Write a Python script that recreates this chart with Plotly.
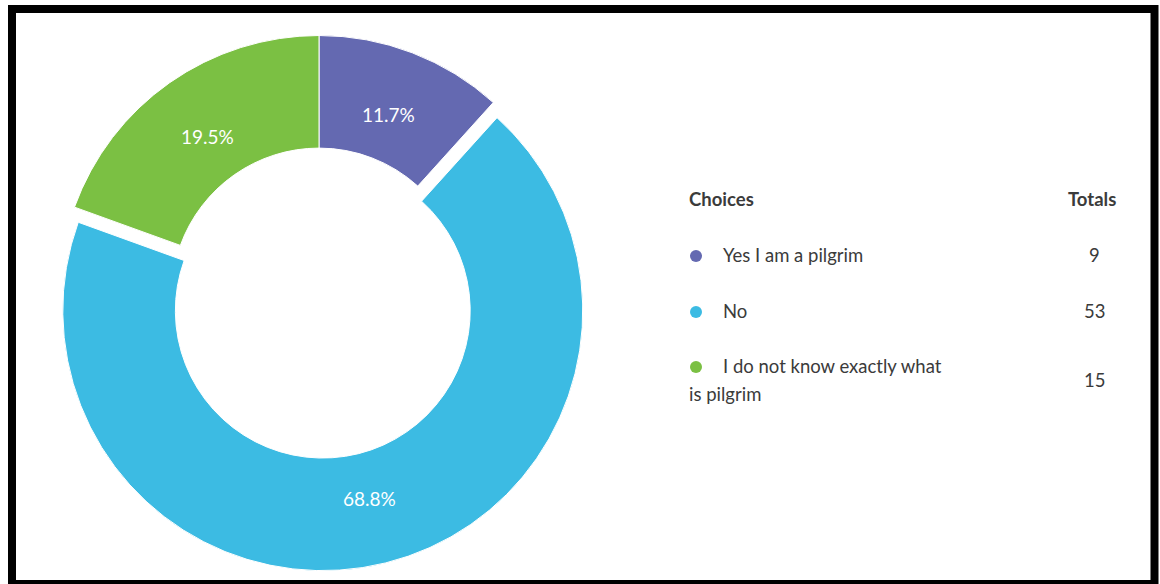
import math
import textwrap
import plotly.graph_objects as go

# Survey answers and their counts
choices = ["Yes I am a pilgrim", "No", "I do not know exactly what is pilgrim"]
totals = [9, 53, 15]
colors = ["#6469B1", "#3CBBE3", "#7BC043"]
pulls = [0, 0.06, 0]

W, H = 1160, 584
FONT = "Lato"
TEXT = "#3b3b3b"

# Pie geometry (pixels): centre, outer radius and hole fraction
CX, CY, R = 319, 295.5, 260
HOLE = 0.567
LABEL_R = 0.745


def px(x):
    return x / W


def py(y):
    return 1 - y / H


half = R * (1 + max(pulls))
fig = go.Figure()

fig.add_trace(go.Pie(
    labels=choices,
    values=totals,
    hole=HOLE,
    sort=False,
    direction="clockwise",
    rotation=0,
    pull=pulls,
    marker=dict(colors=colors, line=dict(color="white", width=1)),
    textinfo="none",
    domain=dict(x=[px(CX - half), px(CX + half)],
                y=[py(CY + half), py(CY - half)]),
    showlegend=False,
    hoverinfo="label+value+percent",
))

annotations = []

# Percentage labels placed in each slice, clockwise from 12 o'clock
grand = sum(totals)
start = 0.0
for value, pull in zip(totals, pulls):
    frac = value / grand
    mid = 2 * math.pi * (start + frac / 2)
    r = R * (LABEL_R + pull)
    annotations.append(dict(
        x=px(CX + r * math.sin(mid)), y=py(CY - r * math.cos(mid)),
        text=f"{frac * 100:.1f}%", xanchor="center", yanchor="middle",
        xref="paper", yref="paper", showarrow=False,
        font=dict(family=FONT, size=19, color="white"),
    ))
    start += frac

# Legend table: header row, then one row per choice
table = [
    dict(x=px(687), y=py(199), text="<b>Choices</b>", xanchor="left"),
    dict(x=px(1118), y=py(199), text="<b>Totals</b>", xanchor="right"),
]

row_y = [255, 311, 366]
dot_x, dot_y = [], []
for label, total, y in zip(choices, totals, row_y):
    lines = textwrap.wrap(label, 26)
    table.append(dict(x=px(721), y=py(y), text=lines[0], xanchor="left"))
    for k, extra in enumerate(lines[1:], start=1):
        table.append(dict(x=px(687), y=py(y + 28 * k), text=extra, xanchor="left"))
    total_y = y + 14 * (len(lines) - 1)
    table.append(dict(x=px(1094), y=py(total_y), text=str(total), xanchor="center"))
    dot_x.append(696)
    dot_y.append(y + 1)

for a in table:
    a.update(xref="paper", yref="paper", yanchor="middle", showarrow=False,
             font=dict(family=FONT, size=18.5, color=TEXT))
annotations += table

# Coloured bullets beside each choice, on a pixel-scaled overlay axis
fig.add_trace(go.Scatter(
    x=dot_x, y=dot_y, mode="markers",
    marker=dict(size=12, color=colors, line=dict(width=0)),
    xaxis="x", yaxis="y", showlegend=False, hoverinfo="skip",
))

fig.update_layout(
    width=W, height=H,
    margin=dict(l=0, r=0, t=0, b=0),
    paper_bgcolor="white",
    plot_bgcolor="rgba(0,0,0,0)",
    xaxis=dict(range=[0, W], domain=[0, 1], visible=False, fixedrange=True),
    yaxis=dict(range=[H, 0], domain=[0, 1], visible=False, fixedrange=True),
    annotations=annotations,
    shapes=[dict(type="rect", xref="paper", yref="paper",
                 x0=px(12), x1=px(1154.5), y0=py(9), y1=py(584),
                 line=dict(color="black", width=8), fillcolor="rgba(0,0,0,0)",
                 layer="above")],
)

fig.write_html("out.html")
